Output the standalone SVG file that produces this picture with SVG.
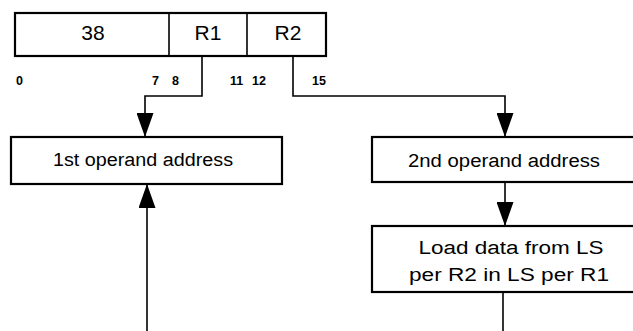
<svg xmlns="http://www.w3.org/2000/svg" width="633" height="331" viewBox="0 0 633 331">
<defs>
<style>
.box{fill:#fff;stroke:#000;stroke-width:2.2}
.div{stroke:#000;stroke-width:1.6}
.lbl{font-family:"Liberation Sans",Arial,sans-serif;font-size:18px;fill:#000;text-anchor:middle}
.big{font-size:21px}
.bit{font-family:"Liberation Sans",Arial,sans-serif;font-size:12.5px;font-weight:bold;fill:#000}
.con{fill:none;stroke:#000;stroke-width:1.6}
</style>
<marker id="ah" viewBox="0 0 24 17" refX="24" refY="8.5" markerUnits="userSpaceOnUse" markerWidth="24" markerHeight="17" orient="auto">
<path d="M0,0 L24,8.5 L0,17 Z" fill="#000"/>
</marker>
</defs>
<g id="instruction">
<rect class="box" x="15" y="13" width="311" height="43"/>
<line class="div" x1="169" y1="13" x2="169" y2="56"/>
<line class="div" x1="247" y1="13" x2="247" y2="56"/>
<text class="lbl big" x="93" y="40">38</text>
<text class="lbl big" x="208" y="40">R1</text>
<text class="lbl big" x="288" y="40">R2</text>
<text class="bit" x="16" y="85">0</text>
<text class="bit" x="152" y="85">7</text>
<text class="bit" x="172" y="85">8</text>
<text class="bit" x="230" y="85">11</text>
<text class="bit" x="252" y="85">12</text>
<text class="bit" x="312" y="85">15</text>
</g>
<g id="op1">
<rect class="box" x="11" y="137" width="271" height="47"/>
<text class="lbl" x="143" y="166" textLength="180" lengthAdjust="spacingAndGlyphs">1st operand address</text>
</g>
<g id="op2">
<rect class="box" x="372" y="137" width="266" height="45"/>
<text class="lbl" x="504" y="167" textLength="192" lengthAdjust="spacingAndGlyphs">2nd operand address</text>
</g>
<g id="load">
<rect class="box" x="372" y="226" width="266" height="66"/>
<text class="lbl" x="511" y="254" textLength="185" lengthAdjust="spacingAndGlyphs">Load data from LS</text>
<text class="lbl" x="509" y="281" textLength="200" lengthAdjust="spacingAndGlyphs">per R2 in LS per R1</text>
</g>
<g id="connectors">
<path class="con" d="M202,56 V96 H145 V137" marker-end="url(#ah)"/>
<path class="con" d="M293,56 V96 H505 V137" marker-end="url(#ah)"/>
<path class="con" d="M505,182 V226" marker-end="url(#ah)"/>
<path class="con" d="M147,331 V184" marker-end="url(#ah)"/>
<path class="con" d="M503,292 V331"/>
</g>
</svg>
